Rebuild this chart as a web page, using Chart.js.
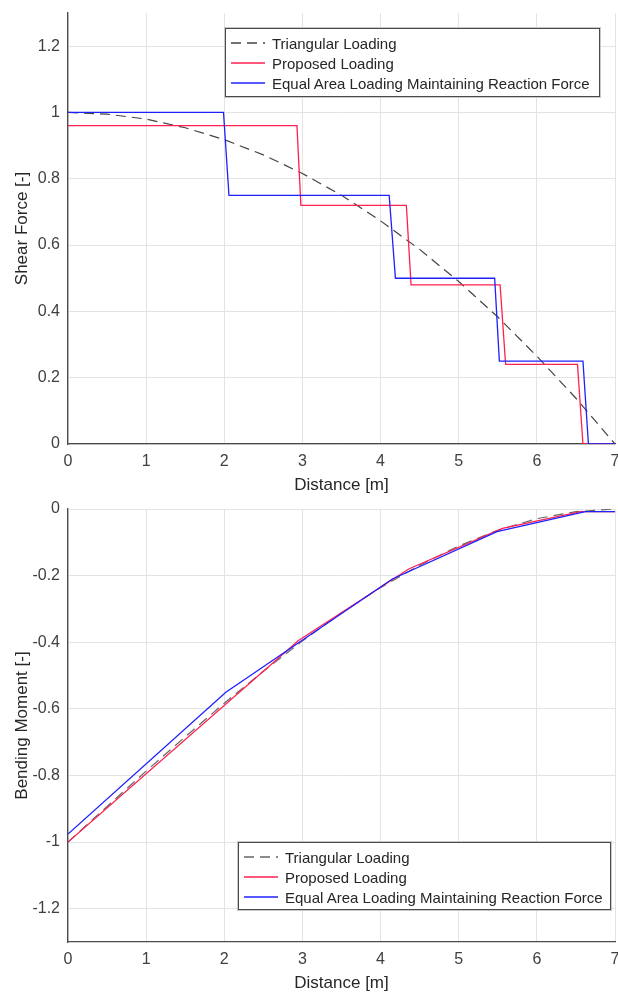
<!DOCTYPE html>
<html lang="en">

<head>
    <meta charset="UTF-8">
    <title>Shear Force and Bending Moment</title>
    <style>
        body {
            margin: 0;
            padding: 0;
            background-color: #ffffff;
            font-family: 'Liberation Sans', Arial, sans-serif;
        }

        .wrap {
            position: relative;
            width: 618px;
            height: 994px;
        }

        canvas {
            position: absolute;
            left: 0;
        }

        .legend {
            position: absolute;
            background: #ffffff;
            border: 1px solid #4a4a4a;
            box-shadow: 0 0 0 1px #c8c8c8;
            padding-top: 4px;
            font-size: 15px;
            color: #262626;
        }

        .legend .row {
            height: 20px;
            display: flex;
            align-items: center;
            white-space: nowrap;
        }

        .legend svg {
            margin-left: 5px;
            margin-right: 7px;
            flex: none;
        }
    </style>
</head>

<body>
    <div class="wrap">
        <canvas id="shearChart" style="top:0"></canvas>
        <canvas id="momentChart" style="top:496px"></canvas>

        <div class="legend" style="left:225px; top:28px; width:373px; height:63px;">
            <div class="row"><svg width="34" height="4"><line x1="0" y1="2" x2="34" y2="2" stroke="#444" stroke-width="1.3" stroke-dasharray="10,6"/></svg>Triangular Loading</div>
            <div class="row"><svg width="34" height="4"><line x1="0" y1="2" x2="34" y2="2" stroke="#ff2050" stroke-width="1.3"/></svg>Proposed Loading</div>
            <div class="row"><svg width="34" height="4"><line x1="0" y1="2" x2="34" y2="2" stroke="#2020ff" stroke-width="1.3"/></svg>Equal Area Loading Maintaining Reaction Force</div>
        </div>

        <div class="legend" style="left:238px; top:842px; width:371px; height:62px;">
            <div class="row"><svg width="34" height="4"><line x1="0" y1="2" x2="34" y2="2" stroke="#666" stroke-width="1.3" stroke-dasharray="10,6"/></svg>Triangular Loading</div>
            <div class="row"><svg width="34" height="4"><line x1="0" y1="2" x2="34" y2="2" stroke="#ff2050" stroke-width="1.3"/></svg>Proposed Loading</div>
            <div class="row"><svg width="34" height="4"><line x1="0" y1="2" x2="34" y2="2" stroke="#2020ff" stroke-width="1.3"/></svg>Equal Area Loading Maintaining Reaction Force</div>
        </div>
    </div>

    <script src="https://cdn.jsdelivr.net/npm/chart.js"></script>
    <script>
        // series names
        const seriesNames = ['Triangular Loading', 'Proposed Loading', 'Equal Area Loading Maintaining Reaction Force'];

        // distance samples for the triangular curves
        const distance = [0, 0.5, 1, 1.5, 2, 2.5, 3, 3.5, 4, 4.5, 5, 5.5, 6, 6.5, 7];

        // shear force
        const triShear = [1, 0.995, 0.98, 0.954, 0.918, 0.872, 0.816, 0.75, 0.673, 0.587, 0.49, 0.383, 0.265, 0.138, 0];
        const propShearX = [0, 2.93, 2.98, 4.33, 4.39, 5.53, 5.6, 6.52, 6.59, 7];
        const propShearY = [0.96, 0.96, 0.72, 0.72, 0.48, 0.48, 0.24, 0.24, 0, 0];
        const eqShearX = [0, 1.99, 2.06, 4.11, 4.19, 5.46, 5.52, 6.59, 6.66, 7];
        const eqShearY = [1, 1, 0.75, 0.75, 0.5, 0.5, 0.25, 0.25, 0, 0];

        // bending moment
        const triMoment = [-1, -0.893, -0.787, -0.684, -0.583, -0.487, -0.396, -0.312, -0.236, -0.169, -0.111, -0.064, -0.029, -0.008, 0];
        const propMomentX = [0, 2.95, 4.36, 5.56, 6.56, 7];
        const propMomentY = [-1, -0.395, -0.18, -0.058, -0.008, -0.008];
        const eqMomentX = [0, 2.02, 4.15, 5.49, 6.62, 7];
        const eqMomentY = [-0.976, -0.55, -0.21, -0.068, -0.008, -0.008];

        const RED = '#ff2050';
        const BLUE = '#2020ff';
        const FONT = "'Liberation Sans', Arial, sans-serif";

        function pts(xs, ys) {
            return xs.map((x, i) => ({ x: x, y: ys[i] }));
        }

        function makeOptions(yMin, yMax, yTitle, xHeight) {
            return {
                responsive: false,
                animation: false,
                layout: { padding: { top: 13, right: 3, left: 0, bottom: 0 } },
                plugins: { legend: { display: false }, tooltip: { enabled: false } },
                elements: { point: { radius: 0 }, line: { tension: 0 } },
                scales: {
                    x: {
                        type: 'linear',
                        min: 0,
                        max: 7,
                        ticks: { stepSize: 1, color: '#404040', font: { family: FONT, size: 16 }, padding: 8 },
                        grid: { color: '#e3e3e3', drawTicks: false },
                        border: { color: '#4a4a4a', width: 1.3 },
                        title: { display: true, text: 'Distance [m]', color: '#262626', font: { family: FONT, size: 17 }, padding: { top: 2, bottom: 0 } },
                        afterFit: function (scale) {
                            scale.height = xHeight;
                            scale.paddingLeft = 0;
                            scale.paddingRight = 0;
                        }
                    },
                    y: {
                        min: yMin,
                        max: yMax,
                        ticks: {
                            stepSize: 0.2,
                            includeBounds: false,
                            color: '#404040',
                            font: { family: FONT, size: 16 },
                            padding: 8,
                            callback: v => String(Math.round(v * 10) / 10)
                        },
                        grid: { color: '#e3e3e3', drawTicks: false },
                        border: { color: '#4a4a4a', width: 1.3 },
                        title: { display: true, text: yTitle, color: '#262626', font: { family: FONT, size: 17 }, padding: { top: 12, bottom: 4 } },
                        afterFit: function (scale) {
                            scale.width = 68;
                            scale.paddingTop = 0;
                            scale.paddingBottom = 0;
                        }
                    }
                }
            };
        }

        function makeDatasets(triY, propX, propY, eqX, eqY, triColor) {
            return [
                { label: seriesNames[0], data: pts(distance, triY), borderColor: triColor, borderWidth: 1.2, borderDash: [10, 6], order: 3 },
                { label: seriesNames[1], data: pts(propX, propY), borderColor: RED, borderWidth: 1.3, order: 2 },
                { label: seriesNames[2], data: pts(eqX, eqY), borderColor: BLUE, borderWidth: 1.3, order: 1 }
            ];
        }

        // 剪力图
        const shearCanvas = document.getElementById('shearChart');
        shearCanvas.width = 618;
        shearCanvas.height = 496;
        new Chart(shearCanvas.getContext('2d'), {
            type: 'line',
            data: { datasets: makeDatasets(triShear, propShearX, propShearY, eqShearX, eqShearY, '#444444') },
            options: makeOptions(0, 1.3, 'Shear Force [-]', 52)
        });

        // 弯矩图
        const momentCanvas = document.getElementById('momentChart');
        momentCanvas.width = 618;
        momentCanvas.height = 498;
        new Chart(momentCanvas.getContext('2d'), {
            type: 'line',
            data: { datasets: makeDatasets(triMoment, propMomentX, propMomentY, eqMomentX, eqMomentY, '#666666') },
            options: makeOptions(-1.3, 0, 'Bending Moment [-]', 52)
        });
    </script>
</body>

</html>
